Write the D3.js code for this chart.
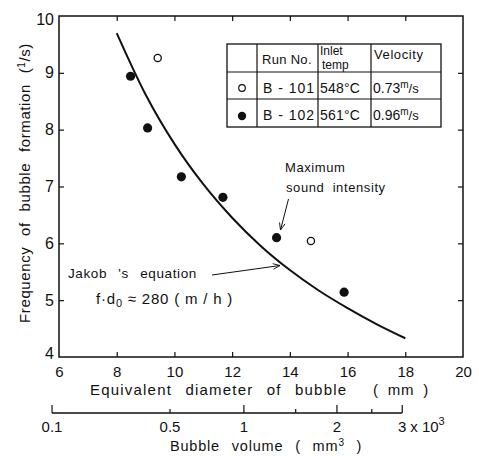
<!DOCTYPE html>
<html><head><meta charset="utf-8">
<script src="https://cdn.jsdelivr.net/npm/d3@7"></script>
<style>
html,body{margin:0;padding:0;background:#fff;}
svg{display:block;font-family:"Liberation Sans",Arial,sans-serif;}
text{fill:#111;}
</style></head>
<body><svg id="c" width="479" height="456"></svg>
<script>
// ---- data ----
const diamTicks = [6, 8, 10, 12, 14, 16, 18, 20];
const freqTicks = [4, 5, 6, 7, 8, 9, 10];
const volMajorTicks = [0.1, 1, 2, 3];
const volMinorTicks = [0.5, 1.5, 2.5];
const volTickLabels = ["0.1", "0.5", "1", "2", "3"];
const volLabelValues = [0.1, 0.5, 1, 2, 3];
// B-101 (open circles)
const runB101_d = [9.42, 14.73];
const runB101_f = [9.26, 6.04];
// B-102 (filled circles)
const runB102_d = [8.48, 9.07, 10.24, 11.68, 13.54, 15.88];
const runB102_f = [8.94, 8.03, 7.17, 6.81, 6.10, 5.14];
// Jakob's equation curve, f·d0 ≈ 280 m/h
const jakob_d = [8, 9, 10, 11, 12, 13, 14, 15, 16, 17, 18];
const jakob_f = [9.70, 8.62, 7.75, 7.04, 6.45, 5.95, 5.53, 5.17, 4.86, 4.58, 4.33];
// legend table
const tableHeader = ["", "Run No.", "Inlet|temp", "Velocity"];
const tableRuns = ["B-101", "B-102"];
const tableTemps = ["548°C", "561°C"];
const tableVel = ["0.73", "0.96"];

// ---- layout ----
const svg = d3.select("#c");
const L = 59, T = 16, W = 404, H = 341;
const x = d3.scaleLinear().domain([6, 20]).range([L, L + W]);
const y = d3.scaleLinear().domain([4, 10]).range([T + H, T]);
// volume (x10^3 mm^3) -> equivalent diameter d = (6V/pi)^(1/3)
const kVol = Math.cbrt(6000 / Math.PI);
const xv = d3.scalePow().exponent(1 / 3).domain([0, 3]).range([x(0), x(kVol * Math.cbrt(3))]);

const g = svg.append("g");
const tickFont = "15px";

// frame
g.append("rect").attr("x", L).attr("y", T).attr("width", W).attr("height", H)
  .attr("fill", "none").attr("stroke", "#111").attr("stroke-width", 1.5);

// bottom axis (inner ticks)
const inner = diamTicks.filter(d => d > 6 && d < 20);
const ax = g.append("g").attr("transform", `translate(0,${T + H})`)
  .call(d3.axisBottom(x).tickValues(diamTicks).tickFormat(d3.format("d")).tickSizeInner(-5).tickSizeOuter(0).tickPadding(6));
ax.select(".domain").remove();
ax.selectAll(".tick line").filter(d => d === 6 || d === 20).remove();
ax.selectAll("text").attr("font-size", tickFont).attr("font-family", "Liberation Sans").attr("dy", "0.95em");
// top ticks
const at = g.append("g").attr("transform", `translate(0,${T})`)
  .call(d3.axisTop(x).tickValues(inner).tickSizeInner(-5).tickSizeOuter(0).tickFormat(""));
at.select(".domain").remove();
// left axis
const ay = g.append("g").attr("transform", `translate(${L},0)`)
  .call(d3.axisLeft(y).tickValues(freqTicks).tickFormat(d3.format("d")).tickSizeInner(-5).tickSizeOuter(0).tickPadding(5));
ay.select(".domain").remove();
ay.selectAll(".tick line").filter(d => d === 4 || d === 10).remove();
ay.selectAll("text").attr("font-size", "16px").attr("font-family", "Liberation Sans");
ay.selectAll(".tick").filter(d => d === 4).select("text").attr("dy", "0.1em");
ay.selectAll(".tick").filter(d => d === 10).select("text").attr("dy", "0.5em");
// right ticks
const ar = g.append("g").attr("transform", `translate(${L + W},0)`)
  .call(d3.axisRight(y).tickValues(freqTicks.filter(d => d > 4 && d < 10)).tickSizeInner(-5).tickSizeOuter(0).tickFormat(""));
ar.select(".domain").remove();
g.selectAll(".tick line").attr("stroke", "#111").attr("stroke-width", 1.2);

// secondary volume axis
const vy = 413;
const av = g.append("g").attr("transform", `translate(0,${vy})`);
av.append("line").attr("x1", xv(0.1)).attr("x2", xv(3)).attr("stroke", "#111").attr("stroke-width", 1.3);
av.selectAll("line.maj").data(volMajorTicks).join("line").attr("class", "maj")
  .attr("x1", d => xv(d)).attr("x2", d => xv(d)).attr("y1", 0).attr("y2", -8).attr("stroke", "#111").attr("stroke-width", 1.2);
av.selectAll("line.min").data(volMinorTicks).join("line").attr("class", "min")
  .attr("x1", d => xv(d)).attr("x2", d => xv(d)).attr("y1", 0).attr("y2", -4).attr("stroke", "#111").attr("stroke-width", 1.2);
av.selectAll("text.vl").data(volLabelValues).join("text").attr("class", "vl")
  .attr("x", d => xv(d)).attr("y", 19).attr("text-anchor", "middle").attr("font-size", tickFont)
  .text((d, i) => volTickLabels[i]);
av.append("text").attr("x", xv(3) + 8).attr("y", 19).attr("font-size", tickFont)
  .text("x 10").append("tspan").attr("dy", -7).attr("font-size", "11px").text("3");

// axis titles
svg.append("text").attr("x", 90).attr("y", 395).attr("font-size", "15px").attr("word-spacing", "8px").attr("letter-spacing", "1.2px")
  .text("Equivalent diameter of bubble");
svg.append("text").attr("x", 373).attr("y", 395).attr("font-size", "15px").attr("word-spacing", "4px").attr("letter-spacing", "0.8px")
  .text("( mm )");
const bv = svg.append("text").attr("x", 170).attr("y", 451).attr("font-size", "14.5px").attr("word-spacing", "7px").attr("letter-spacing", "0.8px");
bv.append("tspan").text("Bubble volume   ( mm");
bv.append("tspan").attr("dy", -5).attr("font-size", "10px").text("3");
bv.append("tspan").attr("dy", 5).text(" )");

const yl = svg.append("text").attr("transform", "rotate(-90)").attr("x", -183).attr("y", 30)
  .attr("text-anchor", "middle").attr("font-size", "15px").attr("word-spacing", "6px").attr("letter-spacing", "0.6px");
yl.append("tspan").text("Frequency of bubble formation (");
yl.append("tspan").attr("dy", -5).attr("font-size", "10px").text("1");
yl.append("tspan").attr("dy", 5).text("/s)");

// Jakob curve
const line = d3.line().x(d => x(d[0])).y(d => y(d[1])).curve(d3.curveMonotoneX);
svg.append("path").datum(jakob_d.map((d, i) => [d, jakob_f[i]]))
  .attr("d", line).attr("fill", "none").attr("stroke", "#111").attr("stroke-width", 2);

// points
svg.selectAll("circle.b101").data(runB101_d).join("circle").attr("class", "b101")
  .attr("cx", d => x(d)).attr("cy", (d, i) => y(runB101_f[i])).attr("r", 3.6)
  .attr("fill", "#fff").attr("stroke", "#111").attr("stroke-width", 1.3);
svg.selectAll("circle.b102").data(runB102_d).join("circle").attr("class", "b102")
  .attr("cx", d => x(d)).attr("cy", (d, i) => y(runB102_f[i])).attr("r", 4.6)
  .attr("fill", "#111");

// legend table
const tx = [227, 257, 318, 371, 441], ty = [44, 72, 99, 127];
const tb = svg.append("g");
tb.append("rect").attr("x", tx[0]).attr("y", ty[0]).attr("width", tx[4] - tx[0]).attr("height", ty[3] - ty[0])
  .attr("fill", "#fff").attr("stroke", "#111").attr("stroke-width", 1.3);
tb.selectAll("line.v").data(tx.slice(1, 4)).join("line").attr("class", "v")
  .attr("x1", d => d).attr("x2", d => d).attr("y1", ty[0]).attr("y2", ty[3]).attr("stroke", "#111").attr("stroke-width", 1.2);
tb.selectAll("line.h").data(ty.slice(1, 3)).join("line").attr("class", "h")
  .attr("x1", tx[0]).attr("x2", tx[4]).attr("y1", d => d).attr("y2", d => d).attr("stroke", "#111").attr("stroke-width", 1.2);
tb.append("text").attr("x", 262).attr("y", 64).attr("font-size", "13px").attr("letter-spacing", "0.3px").text(tableHeader[1]);
const [h1, h2] = tableHeader[2].split("|");
tb.append("text").attr("x", 320).attr("y", 55).attr("font-size", "12px").text(h1);
tb.append("text").attr("x", 322).attr("y", 69).attr("font-size", "12px").text(h2);
tb.append("text").attr("x", 374).attr("y", 59).attr("font-size", "13px").attr("letter-spacing", "0.6px").text(tableHeader[3]);
tableRuns.forEach((r, i) => {
  const by = ty[i + 1] + 21;
  tb.append("text").attr("x", 263).attr("y", by).attr("font-size", "14px").attr("letter-spacing", "1px").text(r.replace("-", " - "));
  tb.append("text").attr("x", 320).attr("y", by).attr("font-size", "14px").attr("letter-spacing", "0.2px").text(tableTemps[i]);
  const vt = tb.append("text").attr("x", 373).attr("y", by).attr("font-size", "14px");
  vt.append("tspan").text(tableVel[i]);
  vt.append("tspan").attr("dy", -5).attr("font-size", "10px").text("m");
  vt.append("tspan").attr("dy", 5).attr("font-size", "13px").text("/s");
});
tb.append("circle").attr("cx", 242).attr("cy", 88).attr("r", 3.3).attr("fill", "#fff").attr("stroke", "#111").attr("stroke-width", 1.2);
tb.append("circle").attr("cx", 242).attr("cy", 116).attr("r", 4.2).attr("fill", "#111");

// annotations
svg.append("defs").append("marker").attr("id", "ah").attr("viewBox", "0 0 10 10").attr("refX", 10).attr("refY", 5)
  .attr("markerWidth", 9).attr("markerHeight", 7).attr("orient", "auto").attr("markerUnits", "userSpaceOnUse")
  .append("path").attr("d", "M0,1 L10,5 L0,9").attr("fill", "none").attr("stroke", "#111").attr("stroke-width", 1.3);
svg.append("text").attr("x", 285).attr("y", 172).attr("font-size", "13px").attr("letter-spacing", "0.6px").text("Maximum");
svg.append("text").attr("x", 286).attr("y", 192).attr("font-size", "13px").attr("letter-spacing", "0.6px").attr("word-spacing", "4px").text("sound intensity");
svg.append("line").attr("x1", 288.5).attr("y1", 199).attr("x2", 280.5).attr("y2", 230)
  .attr("stroke", "#111").attr("stroke-width", 1).attr("marker-end", "url(#ah)");
svg.append("text").attr("x", 68).attr("y", 278).attr("font-size", "13.5px").attr("letter-spacing", "0.6px").attr("word-spacing", "7px").text("Jakob 's equation");
const fe = svg.append("text").attr("x", 96).attr("y", 304).attr("font-size", "15px").attr("letter-spacing", "0.8px");
fe.append("tspan").text("f·d");
fe.append("tspan").attr("dy", 3).attr("font-size", "11px").text("0");
fe.append("tspan").attr("dy", -3).text(" ≈ 280 ( m / h )");
svg.append("line").attr("x1", 212).attr("y1", 275).attr("x2", 280).attr("y2", 265.5)
  .attr("stroke", "#111").attr("stroke-width", 1).attr("marker-end", "url(#ah)");
</script></body></html>
